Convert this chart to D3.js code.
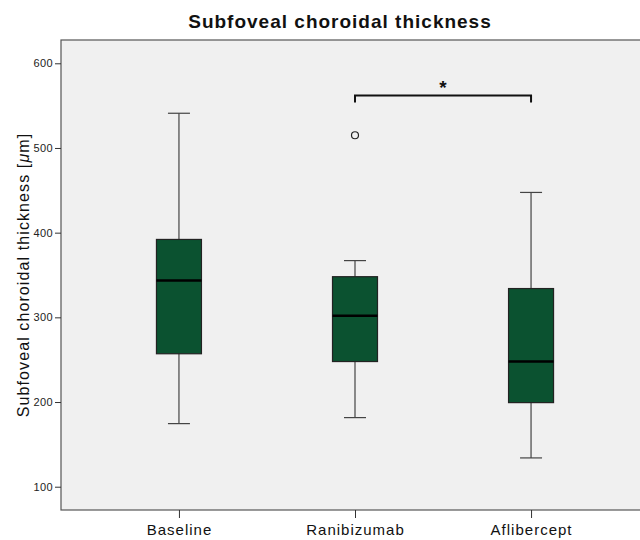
<!DOCTYPE html>
<html>
<head>
<meta charset="utf-8">
<script src="https://cdn.jsdelivr.net/npm/d3@7"></script>
<style>
  body{margin:0;background:#fff;}
  svg{display:block;font-family:"Liberation Sans",Arial,sans-serif;}
</style>
</head>
<body>
<div id="chart"></div>
<script>
const groups=["Baseline","Ranibizumab","Aflibercept"];
const whiskerLow=[174.5,181.6,134];
const q1=[257,247.8,199.3];
const median=[343.5,302,247.8];
const q3=[392,348,334];
const whiskerHigh=[541,367,447.5];
const outliers=[{g:"Ranibizumab",v:515}];
const yTicks=[100,200,300,400,500,600];
const bracket={from:"Ranibizumab",to:"Aflibercept",v:562,label:"*"};

(function(){
  const W=640,H=540;
  const m={left:61,top:40,right:-9,bottom:30};
  const svg=d3.select("#chart").append("svg").attr("width",W).attr("height",H);
  const x=d3.scalePoint().domain(groups).range([m.left,W-m.right]).padding(0.67);
  const y=d3.scaleLinear().domain([72.5,627.5]).range([H-m.bottom,m.top]);

  svg.append("rect").attr("x",m.left).attr("y",m.top)
    .attr("width",W-m.right-m.left).attr("height",H-m.bottom-m.top)
    .attr("fill","#f0f0f0").attr("stroke","#555").attr("stroke-width",1.2);

  svg.append("text").attr("x",340).attr("y",28).attr("text-anchor","middle")
    .attr("font-size",19).attr("font-weight","bold").attr("fill","#111")
    .attr("letter-spacing",1).text("Subfoveal choroidal thickness");

  svg.append("g").attr("transform",`translate(${m.left},0)`)
    .call(d3.axisLeft(y).tickValues(yTicks).tickSize(6).tickPadding(2))
    .call(s=>s.select(".domain").remove())
    .call(s=>s.selectAll("line").attr("stroke","#333"))
    .call(s=>s.selectAll("text").attr("fill","#222").attr("font-size",11).attr("letter-spacing",0.4)
      .attr("font-family","Liberation Sans,Arial,sans-serif"));

  svg.append("g").attr("transform",`translate(0,${H-m.bottom})`)
    .call(d3.axisBottom(x).tickSize(8).tickPadding(6))
    .call(s=>s.select(".domain").remove())
    .call(s=>s.selectAll("line").attr("stroke","#333"))
    .call(s=>s.selectAll("text").attr("fill","#111").attr("font-size",15).attr("letter-spacing",1)
      .attr("font-family","Liberation Sans,Arial,sans-serif"));

  const yt=svg.append("text").attr("transform",`translate(29,${(m.top+H-m.bottom)/2}) rotate(-90)`)
    .attr("text-anchor","middle").attr("font-size",16).attr("letter-spacing",1.1).attr("fill","#111");
  yt.append("tspan").text("Subfoveal choroidal thickness [");
  yt.append("tspan").attr("font-style","italic").text("μ");
  yt.append("tspan").text("m]");

  const bw=45,cw=22;
  const g=svg.selectAll(".box").data(groups).join("g").attr("class","box");
  g.append("line").attr("x1",d=>x(d)).attr("x2",d=>x(d))
    .attr("y1",(d,i)=>y(whiskerLow[i])).attr("y2",(d,i)=>y(q1[i])).attr("stroke","#444").attr("stroke-width",1.2);
  g.append("line").attr("x1",d=>x(d)).attr("x2",d=>x(d))
    .attr("y1",(d,i)=>y(whiskerHigh[i])).attr("y2",(d,i)=>y(q3[i])).attr("stroke","#444").attr("stroke-width",1.2);
  g.append("line").attr("x1",d=>x(d)-cw/2).attr("x2",d=>x(d)+cw/2)
    .attr("y1",(d,i)=>y(whiskerLow[i])).attr("y2",(d,i)=>y(whiskerLow[i])).attr("stroke","#444").attr("stroke-width",1.2);
  g.append("line").attr("x1",d=>x(d)-cw/2).attr("x2",d=>x(d)+cw/2)
    .attr("y1",(d,i)=>y(whiskerHigh[i])).attr("y2",(d,i)=>y(whiskerHigh[i])).attr("stroke","#444").attr("stroke-width",1.2);
  g.append("rect").attr("x",d=>x(d)-bw/2).attr("width",bw)
    .attr("y",(d,i)=>y(q3[i])).attr("height",(d,i)=>y(q1[i])-y(q3[i]))
    .attr("fill","#0b5230").attr("stroke","#222").attr("stroke-width",1.2);
  g.append("line").attr("x1",d=>x(d)-bw/2).attr("x2",d=>x(d)+bw/2)
    .attr("y1",(d,i)=>y(median[i])).attr("y2",(d,i)=>y(median[i])).attr("stroke","#000").attr("stroke-width",2.5);

  svg.selectAll(".outlier").data(outliers).join("circle").attr("class","outlier")
    .attr("cx",d=>x(d.g)).attr("cy",d=>y(d.v)).attr("r",3.5)
    .attr("fill","none").attr("stroke","#222").attr("stroke-width",1.2);

  const by=y(bracket.v),x1=x(bracket.from),x2=x(bracket.to);
  svg.append("path").attr("d",`M${x1},${by+7}V${by}H${x2}V${by+7}`)
    .attr("fill","none").attr("stroke","#111").attr("stroke-width",2);
  svg.append("text").attr("x",(x1+x2)/2).attr("y",by-1).attr("text-anchor","middle")
    .attr("font-size",19).attr("font-weight","bold").attr("fill","#111").text(bracket.label);
})();
</script>
</body>
</html>
